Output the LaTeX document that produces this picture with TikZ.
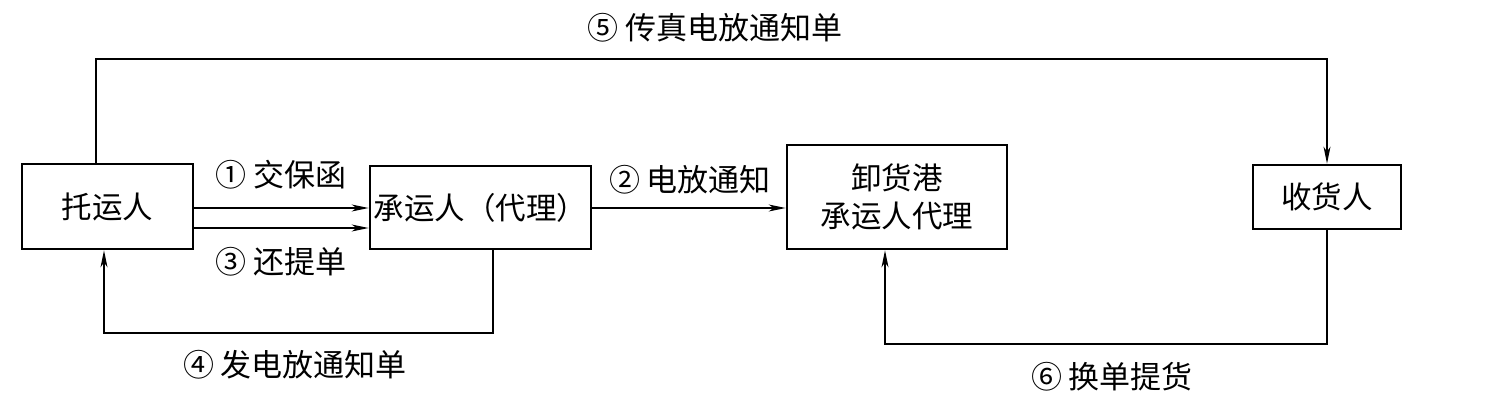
\documentclass[tikz,border=0pt]{standalone}
\usepackage{fontspec}
\setmainfont{Noto Sans CJK SC}
\usetikzlibrary{arrows.meta}
\tikzset{
  box/.style={draw, line width=2.8pt, inner sep=0pt, align=center, font=\fontsize{30.5}{38}\selectfont},
  lbl/.style={inner sep=0pt, font=\fontsize{31}{34}\selectfont},
  arr/.style={line width=1.1pt, -{Stealth[length=17pt,width=7pt,inset=5pt]}},
  ln/.style={line width=1.1pt}
}
\begin{document}
\begin{tikzpicture}[x=1pt,y=-1pt]
\useasboundingbox (0,0) rectangle (1494,413);
\node[box, minimum width=171pt, minimum height=85pt] (A) at (107.5,206.5) {托运人};
\node[box, minimum width=221pt, minimum height=83pt] (B) at (480.5,207.5) {承运人（代理）};
\node[box, minimum width=220pt, minimum height=104pt] (C) at (897,197) {卸货港\\承运人代理};
\node[box, minimum width=148pt, minimum height=64pt] (D) at (1327,197) {收货人};
% arrows
\draw[arr] (A.east |- 0,208) -- (B.west |- 0,208);
\draw[arr] (A.east |- 0,228) -- (B.west |- 0,228);
\draw[arr] (B.east |- 0,208) -- (C.west |- 0,208);
\coordinate (t1) at (96,59);
\draw[arr] (A.north -| t1) -- (t1) -| (D.north);
\coordinate (b1) at (493,333);
\draw[arr] (B.south -| b1) -- (b1) -| (A.south -| 104,0);
\coordinate (b2) at (1327,344);
\draw[arr] (D.south) -- (b2) -| (C.south -| 885,0);
% labels
\node[lbl] (l5) at (715,28) {⑤ 传真电放通知单};
\node[lbl] (l1) at (281,175) {① 交保函};
\node[lbl] (l3) at (281,262) {③ 还提单};
\node[lbl] (l2) at (690,180) {② 电放通知};
\node[lbl] (l4) at (295,365) {④ 发电放通知单};
\node[lbl] (l6) at (1112,377) {⑥ 换单提货};
\end{tikzpicture}
\end{document}
